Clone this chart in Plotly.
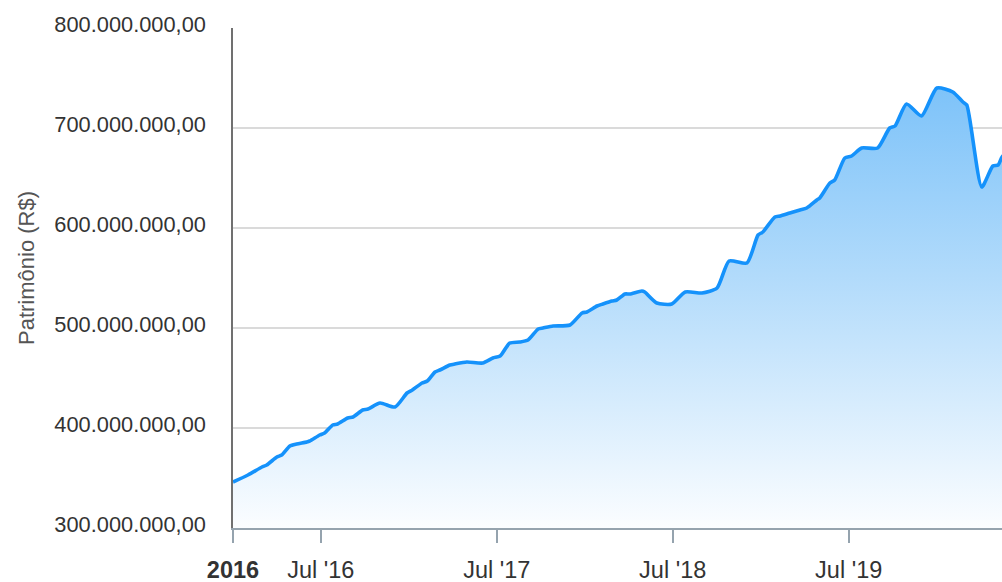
import plotly.graph_objects as go

dates = [
    "2016-01-01", "2016-02-01", "2016-03-01", "2016-03-11", "2016-04-01", "2016-04-11",
    "2016-04-28", "2016-05-12", "2016-06-02", "2016-06-08", "2016-06-29", "2016-07-09",
    "2016-07-26", "2016-08-05", "2016-08-26", "2016-09-06", "2016-09-26", "2016-10-07",
    "2016-11-01", "2016-12-02", "2016-12-27", "2017-01-07", "2017-01-27", "2017-02-07",
    "2017-02-23", "2017-03-05", "2017-03-26", "2017-04-05", "2017-04-30", "2017-06-02",
    "2017-06-23", "2017-07-08", "2017-07-28", "2017-08-18", "2017-09-04", "2017-09-25",
    "2017-10-05", "2017-10-26", "2017-11-30", "2017-12-25", "2018-01-04", "2018-01-25",
    "2018-02-06", "2018-02-25", "2018-03-07", "2018-03-24", "2018-04-03", "2018-04-28",
    "2018-05-04", "2018-05-29", "2018-06-29", "2018-07-27", "2018-08-31", "2018-10-01",
    "2018-10-26", "2018-12-02", "2018-12-25", "2019-01-04", "2019-01-29", "2019-02-09",
    "2019-03-01", "2019-03-22", "2019-04-05", "2019-04-26", "2019-05-02", "2019-05-23",
    "2019-06-02", "2019-06-23", "2019-07-07", "2019-07-28", "2019-08-30", "2019-09-24",
    "2019-10-05", "2019-10-29", "2019-11-29", "2019-12-31", "2020-02-02", "2020-02-23",
    "2020-03-02", "2020-04-02", "2020-04-25", "2020-05-06", "2020-05-14", "2020-06-04",
]

patrimonio_mi = [
    346, 353, 361, 363, 371, 373,
    382, 384, 386, 387, 393, 395,
    403, 404, 410, 411, 418, 419,
    425, 421, 435, 438, 445, 447,
    456, 458, 463, 464, 466, 465,
    470, 472, 485, 486, 488, 499,
    500, 502, 503, 515, 516, 522,
    524, 527, 528, 534, 534, 537,
    536, 525, 524, 536, 535, 540,
    567, 565, 593, 596, 611, 612,
    615, 618, 620, 628, 630, 645,
    648, 670, 672, 680, 680, 700,
    702, 724, 712, 740, 736, 726,
    723, 641, 662, 663, 671, 680,
]
patrimonio = [v * 1e6 for v in patrimonio_mi]

tick_dates = ["2016-01-01", "2016-07-01", "2017-07-01", "2018-07-01", "2019-07-01"]
tick_labels = ["<b>2016</b>", "Jul '16", "Jul '17", "Jul '18", "Jul '19"]
y_title = "Patrimônio (R$)"

y_min, y_max = 300e6, 800e6

fig = go.Figure()
fig.add_trace(go.Scatter(
    x=dates,
    y=patrimonio,
    mode="lines",
    line=dict(color="#1592fb", width=3.6, shape="spline", smoothing=0.6),
    fill="tozeroy",
    fillgradient=dict(
        type="vertical",
        start=y_min,
        stop=y_max,
        colorscale=[[0, "#fbfdff"], [0.5, "#b2dbfb"], [1, "#6dbbf8"]],
    ),
    hoverinfo="x+y",
))

font_family = "Liberation Sans, Arial, sans-serif"

fig.update_layout(
    width=1002,
    height=582,
    margin=dict(l=233, r=0, t=28, b=54),
    paper_bgcolor="white",
    plot_bgcolor="white",
    separators=",.",
    showlegend=False,
    font=dict(family=font_family, size=22, color="#333333"),
    xaxis=dict(
        type="date",
        range=["2016-01-01", "2020-05-14"],
        tickvals=tick_dates,
        ticktext=tick_labels,
        tickfont=dict(size=23.5, color="#333333"),
        showgrid=False,
        zeroline=False,
        showline=True,
        linecolor="#95a3ae",
        linewidth=2,
        ticks="outside",
        ticklen=13,
        tickwidth=2,
        tickcolor="#95a3ae",
        ticklabelstandoff=7,
        automargin=False,
    ),
    yaxis=dict(
        range=[y_min, y_max],
        dtick=100e6,
        tickformat=",.2f",
        tickfont=dict(size=21.8, color="#333333"),
        showgrid=True,
        gridcolor="#dadada",
        gridwidth=1.5,
        zeroline=False,
        showline=True,
        linecolor="#707070",
        linewidth=1.5,
        ticks="",
        ticklabelstandoff=21,
        ticklabelshift=-4,
        automargin=False,
    ),
    annotations=[dict(
        text=y_title,
        xref="paper", yref="paper",
        x=(26 - 233) / 769, y=(528 - 268) / 500,
        xanchor="center", yanchor="middle",
        textangle=-90,
        showarrow=False,
        font=dict(family=font_family, size=22, color="#555555"),
    )],
)

fig.write_html(
    "out.html",
    config={"displayModeBar": False},
    post_script="document.body.style.margin='0';document.body.style.overflow='hidden';",
)
